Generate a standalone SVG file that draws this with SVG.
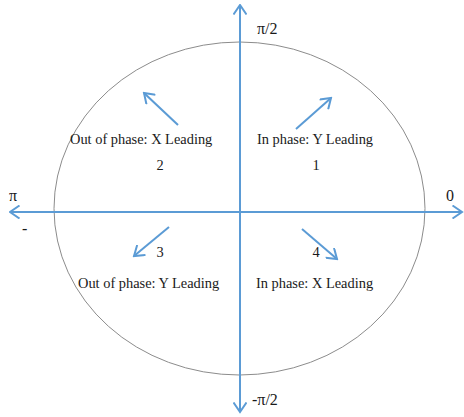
<svg xmlns="http://www.w3.org/2000/svg" width="464" height="417" viewBox="0 0 464 417">
<defs>
<style>
.ax{stroke:#5b9bd5;stroke-width:2;fill:none}
.t{font-family:"Liberation Serif","Times New Roman",serif;font-size:14.4px;fill:#1a1a1a}
.s{font-family:"Liberation Serif","Times New Roman",serif;font-size:16px;fill:#1a1a1a}
</style>
<marker id="ah" viewBox="0 0 12 14" refX="10.5" refY="7" markerWidth="12" markerHeight="14" markerUnits="userSpaceOnUse" orient="auto-start-reverse">
<path d="M1,0.5 L10.5,7 L1,13.5" fill="none" stroke="#5b9bd5" stroke-width="2"/>
</marker>
</defs>
<rect width="464" height="417" fill="#ffffff"/>
<g id="circle">
<ellipse cx="239.5" cy="208.5" rx="185.5" ry="166.5" fill="none" stroke="#8c8c8c" stroke-width="1"/>
</g>
<g id="connectors">
<line class="ax" x1="240" y1="412" x2="240" y2="5" marker-start="url(#ah)" marker-end="url(#ah)"/>
<line class="ax" x1="10" y1="212" x2="462" y2="212" marker-start="url(#ah)" marker-end="url(#ah)"/>
<line class="ax" x1="178" y1="125" x2="144" y2="93" marker-end="url(#ah)"/>
<line class="ax" x1="296" y1="129" x2="331" y2="98" marker-end="url(#ah)"/>
<line class="ax" x1="169" y1="227" x2="134" y2="256" marker-end="url(#ah)"/>
<line class="ax" x1="302" y1="229" x2="337" y2="259" marker-end="url(#ah)"/>
</g>
<g id="axis-labels">
<text class="s" x="257" y="34">π/2</text>
<text class="s" x="252" y="405">-π/2</text>
<text class="s" x="9" y="201">π</text>
<text class="s" x="22" y="234">-</text>
<text class="s" x="446" y="201">0</text>
</g>
<g id="q1">
<text class="t" x="257" y="144">In phase: Y Leading</text>
<text class="t" x="316" y="170" text-anchor="middle">1</text>
</g>
<g id="q2">
<text class="t" x="70" y="144">Out of phase: X Leading</text>
<text class="t" x="160" y="170" text-anchor="middle">2</text>
</g>
<g id="q3">
<text class="t" x="78" y="288">Out of phase: Y Leading</text>
<text class="t" x="160" y="257" text-anchor="middle">3</text>
</g>
<g id="q4">
<text class="t" x="256" y="288">In phase: X Leading</text>
<text class="t" x="316" y="257" text-anchor="middle">4</text>
</g>
</svg>
